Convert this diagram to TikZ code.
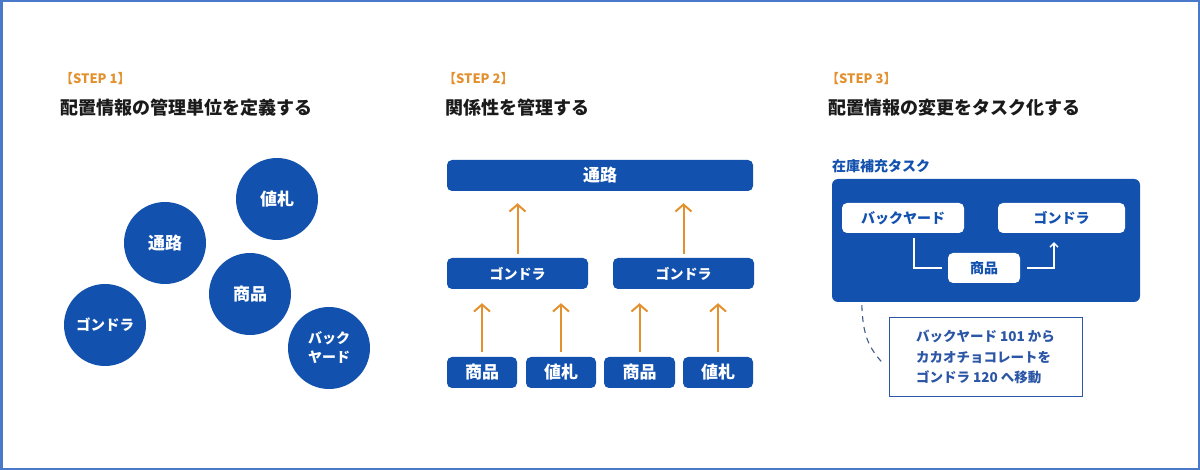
\documentclass[tikz,border=0pt]{standalone}
\usepackage{fontspec}
\setmainfont{Noto Sans CJK JP}
\usetikzlibrary{arrows.meta,positioning}
\definecolor{mblue}{HTML}{1251AE}
\definecolor{morange}{HTML}{E3912E}
\definecolor{mframe}{HTML}{4A79C9}
\definecolor{mtext}{HTML}{1A1A1A}
\definecolor{mnote}{HTML}{2B55A5}
\definecolor{mdash}{HTML}{3D5A8A}
\tikzset{
  steplabel/.style={anchor=west, text=morange, font=\bfseries\fontsize{13}{15}\selectfont, inner sep=0},
  steptitle/.style={anchor=west, text=mtext, font=\bfseries\fontsize{18}{21}\selectfont, inner sep=0},
  bubble/.style={circle, fill=mblue, minimum size=82pt, inner sep=0, text=white, align=center, font=\bfseries\fontsize{17}{19}\selectfont},
  bluebox/.style={rectangle, rounded corners=5pt, fill=mblue, text=white, inner sep=0, font=\bfseries\fontsize{17}{20}\selectfont},
  whitebox/.style={rectangle, rounded corners=5pt, fill=white, text=mblue, inner sep=0, minimum height=30pt, font=\bfseries\fontsize{14}{17}\selectfont},
  orarrow/.style={draw=morange, line width=2pt, -{Straight Barb[length=7pt,width=16pt,line width=2pt]}},
  warrow/.style={draw=white, line width=1.3pt},
}
\begin{document}
\begin{tikzpicture}[x=1pt,y=-1pt]
\useasboundingbox (0,0) rectangle (1200,470);
\draw[mframe, line width=2.5pt] (1.25,1.25) rectangle (1198.75,468.75);

% headings
\node[steplabel] (s1l) at (60,79) {【STEP 1】};
\node[steptitle] (s1t) at (60,108) {配置情報の管理単位を定義する};
\node[steplabel] (s2l) at (443,79) {【STEP 2】};
\node[steptitle] (s2t) at (445,108) {関係性を管理する};
\node[steplabel] (s3l) at (826,79) {【STEP 3】};
\node[steptitle] (s3t) at (828,108) {配置情報の変更をタスク化する};

% step 1 bubbles
\node[bubble] (c1) at (277,199) {値札};
\node[bubble] (c2) at (165,243) {通路};
\node[bubble] (c3) at (250,294) {商品};
\node[bubble, font=\bfseries\fontsize{14.5}{19}\selectfont] (c4) at (105,325) {ゴンドラ};
\node[bubble, font=\bfseries\fontsize{14}{19}\selectfont] (c5) at (329,348) {バック\\ヤード};

% step 2 hierarchy
\node[bluebox, minimum width=306pt, minimum height=31pt] (road) at (600,175.5) {通路};
\node[bluebox, minimum width=141pt, minimum height=31pt, font=\bfseries\fontsize{14}{16}\selectfont] (g1) at (517.5,273.5) {ゴンドラ};
\node[bluebox, minimum width=141pt, minimum height=31pt, font=\bfseries\fontsize{14}{16}\selectfont] (g2) at (683.5,273.5) {ゴンドラ};
\node[bluebox, minimum width=70pt, minimum height=31pt] (p1) at (482,372.5) {商品};
\node[bluebox, minimum width=70pt, minimum height=31pt] (t1) at (561,372.5) {値札};
\node[bluebox, minimum width=71pt, minimum height=31pt] (p2) at (639.5,372.5) {商品};
\node[bluebox, minimum width=70pt, minimum height=31pt] (t2) at (718,372.5) {値札};

\draw[orarrow, shorten <=4pt, shorten >=12pt] (g1.north) -- (g1.north |- road.south);
\draw[orarrow, shorten <=4pt, shorten >=12pt] (g2.north) -- (g2.north |- road.south);
\draw[orarrow, shorten <=5pt, shorten >=14pt] (p1.north) -- (p1.north |- g1.south);
\draw[orarrow, shorten <=5pt, shorten >=14pt] (t1.north) -- (t1.north |- g1.south);
\draw[orarrow, shorten <=5pt, shorten >=14pt] (p2.north) -- (p2.north |- g2.south);
\draw[orarrow, shorten <=5pt, shorten >=14pt] (t2.north) -- (t2.north |- g2.south);

% step 3 task
\node[anchor=west, inner sep=0, text=mblue, font=\bfseries\fontsize{14}{17}\selectfont] (tasklbl) at (832,166) {在庫補充タスク};
\node[rectangle, rounded corners=6pt, fill=mblue, minimum width=308pt, minimum height=123pt, inner sep=0] (task) at (986,240.5) {};
\node[whitebox, minimum width=122pt] (bk) at (903,218) {バックヤード};
\node[whitebox, minimum width=127pt] (gd) at (1061.5,218) {ゴンドラ};
\node[whitebox, minimum width=72pt] (it) at (984,268) {商品};
\draw[warrow] ([xshift=11pt,yshift=-5pt]bk.south) |- ([xshift=-6pt]it.west);
\draw[warrow, -{Straight Barb[length=4pt,width=8pt,line width=1.3pt]}] ([xshift=7pt]it.east) -| ([xshift=-7.5pt,yshift=-9pt]gd.south);

\node[draw=mnote, line width=1pt, minimum width=193pt, minimum height=78pt, inner sep=0, align=left, text=mnote, font=\bfseries\fontsize{13.5}{20.5}\selectfont] (note) at (985.5,357) {バックヤード 101 から\\カカオチョコレートを\\ゴンドラ 120 へ移動};
\draw[mdash, line width=1.1pt, dash pattern=on 6pt off 5pt] ([xshift=30pt,yshift=-3pt]task.south west) .. controls (863,335) and (868,347) .. ([xshift=-5pt,yshift=-7pt]note.west);
\end{tikzpicture}
\end{document}
